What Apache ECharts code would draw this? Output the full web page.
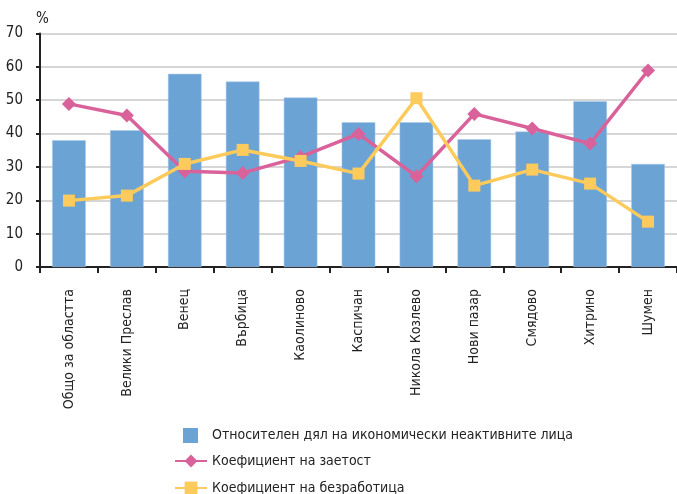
<!DOCTYPE html>
<html><head><meta charset="utf-8">
<script src="https://cdn.jsdelivr.net/npm/echarts@6/dist/echarts.min.js"></script>
<style>html,body{margin:0;padding:0;background:#fff}#c{width:677px;height:494px}</style>
</head><body><div id="c"></div>
<script>
const categories = ['Общо за областта','Велики Преслав','Венец','Върбица','Каолиново','Каспичан','Никола Козлево','Нови пазар','Смядово','Хитрино','Шумен'];
const inactiveShare = [38.0, 41.0, 57.9, 55.6, 50.8, 43.4, 43.4, 38.3, 40.6, 49.7, 30.9];
const employmentRate = [48.9, 45.4, 28.7, 28.2, 33.0, 39.9, 27.2, 45.9, 41.5, 37.0, 58.9];
const unemploymentRate = [19.9, 21.4, 30.9, 35.1, 31.8, 28.0, 50.6, 24.4, 29.2, 25.0, 13.6];
const seriesNames = ['Относителен дял на икономически неактивните лица','Коефициент на заетост','Коефициент на безработица'];

const FONT = '"Liberation Sans Narrow", "DejaVu Sans Condensed", sans-serif';
const legendText = {fontFamily:FONT, fontSize:14, color:'#222'};
const chart = echarts.init(document.getElementById('c'));
chart.setOption({
  animation: false,
  textStyle: {fontFamily: FONT},
  grid: {left: 40, right: 0, top: 33.5, bottom: 227, containLabel: false},
  legend: [
    {left:178, top:423, itemWidth:15, itemHeight:15, icon:'rect', data:[seriesNames[0]],
     itemStyle:{borderWidth:0},
     textStyle:Object.assign({padding:[0,0,0,9]}, legendText)},
    {left:169, top:449, itemWidth:32, itemHeight:16, data:[seriesNames[1]], textStyle:legendText},
    {left:169, top:476, itemWidth:32, itemHeight:16, data:[seriesNames[2]], textStyle:legendText}
  ],
  xAxis: {
    type:'category', data: categories,
    axisLine:{lineStyle:{color:'#222', width:2}},
    axisTick:{show:true, length:6, lineStyle:{color:'#222', width:2}, alignWithLabel:false},
    axisLabel:{rotate:90, interval:0, fontSize:14, color:'#222', fontFamily:FONT, margin:22}
  },
  yAxis: {
    type:'value', min:0, max:70, interval:10, name:'%', nameLocation:'end', nameGap:7,
    nameTextStyle:{fontSize:15, color:'#222', fontFamily:FONT, align:'left', padding:[0,0,0,-4]},
    axisLine:{show:true, lineStyle:{color:'#222', width:2}},
    axisTick:{show:true, length:4, lineStyle:{color:'#222', width:2}},
    axisLabel:{fontSize:15, color:'#222', fontFamily:FONT, margin:17},
    splitLine:{lineStyle:{color:'#c8c8c8', width:1.5}}
  },
  series: [
    {name:seriesNames[0], type:'bar', data:inactiveShare, barWidth:'58%',
     itemStyle:{color:'#6ca3d5', borderColor:'#a9c8e6', borderWidth:0.5}},
    {name:seriesNames[1], type:'line', data:employmentRate, symbol:'diamond', symbolSize:14,
     lineStyle:{color:'#d9629b', width:3.5}, itemStyle:{color:'#d9629b'}},
    {name:seriesNames[2], type:'line', data:unemploymentRate, symbol:'rect', symbolSize:12,
     lineStyle:{color:'#fdca5c', width:3.5}, itemStyle:{color:'#fdca5c'}}
  ]
});
</script></body></html>
